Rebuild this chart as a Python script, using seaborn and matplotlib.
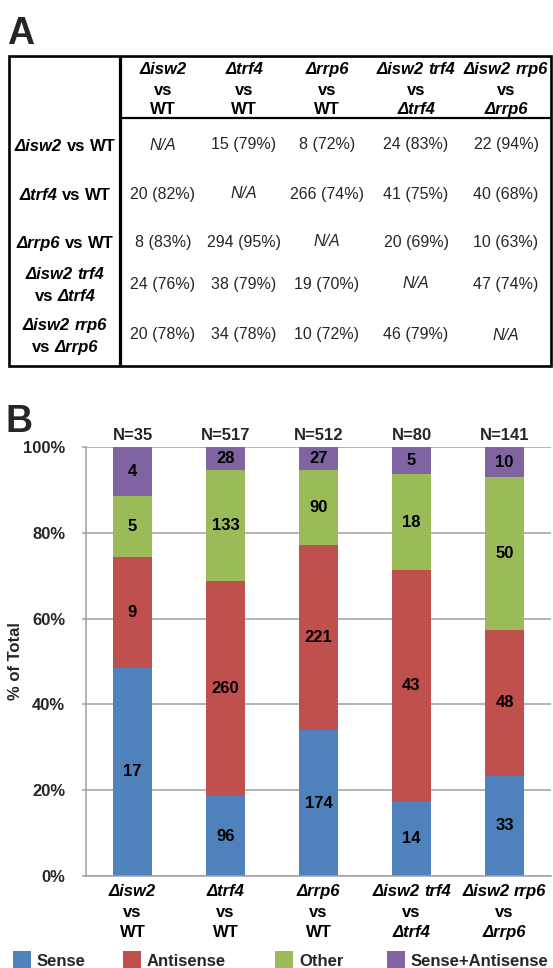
import re
import matplotlib
matplotlib.use("Agg")
import matplotlib.pyplot as plt
from matplotlib.patches import Rectangle
import seaborn as sns
import pandas as pd

W, H = 553, 968
DPI = 100
FONT = "Liberation Sans"

# ---------------- Panel A: pairwise overlap table ----------------
# '*' marks the italic (gene name) part of a label
col_headers = [
    ["*Δisw2*", "vs", "WT"],
    ["*Δtrf4*", "vs", "WT"],
    ["*Δrrp6*", "vs", "WT"],
    ["*Δisw2 trf4*", "vs", "*Δtrf4*"],
    ["*Δisw2 rrp6*", "vs", "*Δrrp6*"],
]
row_headers = [
    ["*Δisw2* vs WT"],
    ["*Δtrf4* vs WT"],
    ["*Δrrp6* vs WT"],
    ["*Δisw2 trf4*", "vs *Δtrf4*"],
    ["*Δisw2 rrp6*", "vs *Δrrp6*"],
]
overlap_counts = [
    [None, 15, 8, 24, 22],
    [20, None, 266, 41, 40],
    [8, 294, None, 20, 10],
    [24, 38, 19, None, 47],
    [20, 34, 10, 46, None],
]
overlap_pct = [
    [None, 79, 72, 83, 94],
    [82, None, 74, 75, 68],
    [83, 95, None, 69, 63],
    [76, 79, 70, None, 74],
    [78, 78, 72, 79, None],
]

# ---------------- Panel B: stacked composition bars ----------------
comparisons = ["isw2_WT", "trf4_WT", "rrp6_WT", "isw2trf4_trf4", "isw2rrp6_rrp6"]
comparison_labels = col_headers
categories = ["Sense", "Antisense", "Other", "Sense+Antisense"]
sense = [17, 96, 174, 14, 33]
antisense = [9, 260, 221, 43, 48]
other = [5, 133, 90, 18, 50]
sense_antisense = [4, 28, 27, 5, 10]
totals = [35, 517, 512, 80, 141]
palette = {"Sense": "#4F81BD", "Antisense": "#C0504D",
           "Other": "#9BBB59", "Sense+Antisense": "#8064A2"}

sns.set_theme(style="white")
plt.rcParams["font.family"] = [FONT, "DejaVu Sans"]

fig = plt.figure(figsize=(W / DPI, H / DPI), dpi=DPI)
fig.patch.set_facecolor("white")

# overlay in pixel coordinates (y downwards) for the table, panel letters, legend
ov = fig.add_axes([0, 0, 1, 1], zorder=0)
ov.set_xlim(0, W)
ov.set_ylim(H, 0)
ov.axis("off")

renderer = fig.canvas.get_renderer()


def px(pt):
    return pt * DPI / 72.0


def rich_line(xc, yc, markup, size, bold, ax=ov):
    """Centre a line made of italic / upright words at (xc, yc) in pixels."""
    words = []
    for part in re.findall(r"\*[^*]+\*|[^*]+", markup):
        ital = part.startswith("*")
        for w in part.strip("*").split():
            words.append((w, ital))
    em = px(size)
    gap = 0.278 * em
    base = yc + 0.358 * em
    items = []
    for w, ital in words:
        t = ax.text(0, base, w, fontsize=size, fontweight="bold" if bold else "normal",
                    style="italic" if ital else "normal", ha="left", va="baseline",
                    family=[FONT, "DejaVu Sans"], color="black")
        items.append((t, t.get_window_extent(renderer=renderer).width))
    total = sum(wd for _, wd in items) + gap * (len(items) - 1)
    x = xc - total / 2
    for t, wd in items:
        t.set_x(x)
        x += wd + gap


# panel letters
ov.text(7, 44, "A", fontsize=27, fontweight="bold", ha="left", va="baseline")
ov.text(6, 432, "B", fontsize=27, fontweight="bold", ha="left", va="baseline")

# table frame
lw_out = 1.9
ov.add_patch(Rectangle((9, 56), 542, 310, fill=False, ec="black", lw=lw_out))
ov.plot([120, 120], [56, 366], color="black", lw=2.3, solid_capstyle="butt")
ov.plot([120, 551], [118, 118], color="black", lw=1.6, solid_capstyle="butt")

col_x = [163, 244, 327, 416, 506]
head_y = [68, 89, 108]
row_y = [145, 194, 242, 284, 335]
HSIZE = 12
TSIZE = 11.5
for cx, lines in zip(col_x, col_headers):
    for ly, line in zip(head_y, lines):
        rich_line(cx, ly, line, HSIZE, True)

for ry, lines in zip(row_y, row_headers):
    if len(lines) == 1:
        rich_line(65, ry, lines[0], HSIZE, True)
    else:
        rich_line(65, ry - 11, lines[0], HSIZE, True)
        rich_line(65, ry + 11, lines[1], HSIZE, True)

for ry, counts, pcts in zip(row_y, overlap_counts, overlap_pct):
    for cx, c, p in zip(col_x, counts, pcts):
        if c is None:
            ov.text(cx, ry, "N/A", fontsize=TSIZE, style="italic", ha="center", va="center")
        else:
            ov.text(cx, ry, f"{c} ({p}%)", fontsize=TSIZE, ha="center", va="center")

# ---------------- bar chart ----------------
top_px, bot_px, left_px, right_px = 447, 876, 86, 551
ax = fig.add_axes([left_px / W, (H - bot_px) / H, (right_px - left_px) / W, (bot_px - top_px) / H],
                  zorder=1)
ax.patch.set_alpha(0)

df = pd.DataFrame({"comparison": comparisons, "Sense": sense, "Antisense": antisense,
                   "Other": other, "Sense+Antisense": sense_antisense, "N": totals})
cum = df[categories].cumsum(axis=1).div(df["N"], axis=0) * 100
cum["comparison"] = comparisons

# draw cumulative heights from the top segment down so each one covers the next
for cat in reversed(categories):
    sns.barplot(data=cum, x="comparison", y=cat, color=palette[cat], saturation=1,
                width=0.41, linewidth=0, ax=ax, zorder=2)

CSIZE = 12
for i in range(len(comparisons)):
    prev = 0.0
    for cat in categories:
        cur = cum.loc[i, cat]
        ax.text(i, (prev + cur) / 2, str(df.loc[i, cat]), ha="center", va="center",
                fontsize=CSIZE, fontweight="bold", color="black", zorder=3)
        prev = cur
    ax.annotate(f"N={totals[i]}", (i, 100), xytext=(0, 8), textcoords="offset points",
                ha="center", va="center", fontsize=CSIZE, fontweight="bold",
                annotation_clip=False)

ax.set_xlim(-0.5, len(comparisons) - 0.5)
ax.set_ylim(0, 100)
ax.set_yticks([0, 20, 40, 60, 80, 100])
ax.set_yticklabels([f"{v}%" for v in [0, 20, 40, 60, 80, 100]],
                   fontsize=CSIZE, fontweight="bold")
ax.set_xlabel("")
ax.set_ylabel("")
grid_c = "#A0A0A0"
ax.yaxis.grid(True, color=grid_c, lw=1.1)
ax.set_axisbelow(True)
for s in ["top", "right"]:
    ax.spines[s].set_visible(False)
for s in ["left", "bottom"]:
    ax.spines[s].set_color(grid_c)
    ax.spines[s].set_linewidth(1.1)
ax.tick_params(axis="y", length=3, width=1.1, color=grid_c, pad=12, left=True)
ax.tick_params(axis="x", length=0, labelbottom=False)

ov.text(16, (top_px + bot_px) / 2, "% of Total", rotation=90, fontsize=CSIZE,
        fontweight="bold", ha="center", va="center")

# category labels under the bars
lab_y = [890, 911, 931]
for i, lines in enumerate(comparison_labels):
    xc = ax.transData.transform((i, 0))[0]
    for ly, line in zip(lab_y, lines):
        rich_line(xc, ly, line, CSIZE, True)

# legend
leg_x = [13, 123, 275, 387]
for lx, cat in zip(leg_x, categories):
    ov.add_patch(Rectangle((lx, 951), 18, 18, color=palette[cat], lw=0))
    ov.text(lx + 24, 961, cat, fontsize=CSIZE, fontweight="bold", ha="left", va="center")

fig.savefig("out.png", dpi=DPI, facecolor="white")
